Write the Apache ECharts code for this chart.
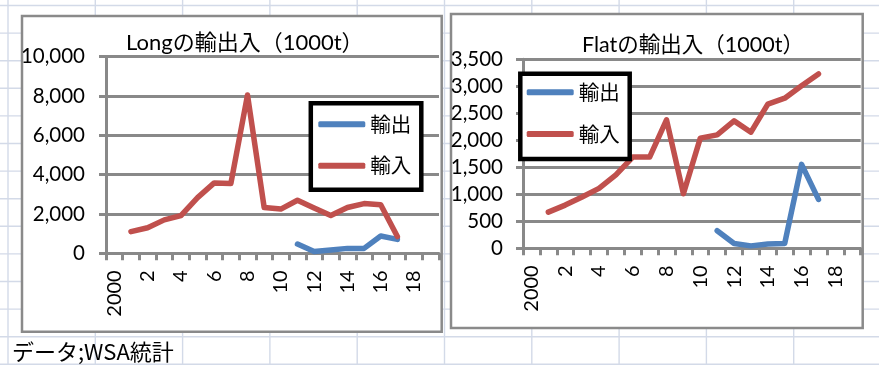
<!DOCTYPE html>
<html>
<head>
<meta charset="utf-8">
<script src="https://cdn.jsdelivr.net/npm/echarts@6/dist/echarts.min.js"></script>
<style>
  html, body { margin: 0; padding: 0; background: #fff; }
  #main { width: 879px; height: 365px; }
</style>
</head>
<body>
<div id="main"></div>
<script>
// Year categories (2000 … 2019), labelled every second year
const years = ['2000', '1', '2', '3', '4', '5', '6', '7', '8', '9',
               '10', '11', '12', '13', '14', '15', '16', '17', '18', '19'];

// Long products, 1000 t
const longExport = [null, null, null, null, null, null, null, null, null, null,
                    null, 470, 90, 170, 250, 250, 880, 710, null, null];
const longImport = [null, 1100, 1300, 1700, 1920, 2830, 3580, 3550, 8050, 2330,
                    2250, 2700, 2300, 1920, 2330, 2530, 2470, 850, null, null];

// Flat products, 1000 t
const flatExport = [null, null, null, null, null, null, null, null, null, null,
                    null, 325, 90, 45, 80, 90, 1555, 905, null, null];
const flatImport = [null, 670, 800, 950, 1110, 1360, 1690, 1690, 2380, 1010,
                    2040, 2100, 2360, 2150, 2670, 2780, 3010, 3230, null, null];

const seriesNames = ['輸出', '輸入'];
const titles = ['Longの輸出入（1000t）', 'Flatの輸出入（1000t）'];
const sourceNote = 'データ;WSA統計';

const FONT = "Lato, 'Noto Sans CJK JP', sans-serif";
const CJK = "'Noto Sans CJK JP', sans-serif";
const AXIS_GRAY = '#898989';
const BLUE = '#4F81BD';
const RED = '#C0504D';

// Spreadsheet cell lines behind the two chart objects
const sheetLines = [];
for (let k = 0; k <= 10; k++) {
  const x = 8 + 87.3 * k;
  sheetLines.push({ type: 'line', z: -20, silent: true,
    shape: { x1: x, y1: 0, x2: x, y2: 365 },
    style: { stroke: '#d3dae8', lineWidth: 1.4 } });
}
for (let k = 0; k <= 13; k++) {
  const y = 5.5 + 27.6 * k;
  sheetLines.push({ type: 'line', z: -20, silent: true,
    shape: { x1: 0, y1: y, x2: 879, y2: y },
    style: { stroke: '#d3dae8', lineWidth: 1.4 } });
}

const frames = [
  { type: 'rect', z: -10, silent: true,
    shape: { x: 22, y: 16, width: 419.7, height: 315.7 },
    style: { fill: '#fff', stroke: '#8a8a8a', lineWidth: 2.5 } },
  { type: 'rect', z: -10, silent: true,
    shape: { x: 451, y: 14, width: 411.7, height: 314 },
    style: { fill: '#fff', stroke: '#8a8a8a', lineWidth: 2.5 } },
  { type: 'text', z: -5, silent: true,
    style: { text: sourceNote, x: 12, y: 352, verticalAlign: 'middle',
             fontSize: 22, fontFamily: CJK, fill: '#000' } }
];

function xAxis(gridIndex) {
  return {
    type: 'category', gridIndex, data: years, boundaryGap: true,
    axisLine: { lineStyle: { color: AXIS_GRAY, width: 3 } },
    axisTick: { show: true, interval: 0, length: 7, lineStyle: { color: AXIS_GRAY, width: 3 } },
    axisLabel: { interval: 1, rotate: 90, margin: 17, fontSize: 20, color: '#000', fontFamily: FONT },
    splitLine: { show: false }
  };
}

function yAxis(gridIndex, max, interval, margin) {
  return {
    type: 'value', gridIndex, min: 0, max, interval,
    axisLine: { show: true, lineStyle: { color: AXIS_GRAY, width: 3 } },
    axisTick: { show: true, length: 7, lineStyle: { color: AXIS_GRAY, width: 3 } },
    splitLine: { show: true, lineStyle: { color: AXIS_GRAY, width: 3 } },
    axisLabel: { margin, fontSize: 20.5, color: '#000', fontFamily: FONT,
                 formatter: v => v.toLocaleString('en-US') }
  };
}

function line(name, color, data, idx) {
  return {
    type: 'line', name, data, xAxisIndex: idx, yAxisIndex: idx,
    symbol: 'none', showSymbol: false, connectNulls: false,
    itemStyle: { color },
    lineStyle: { color, width: 5.5, cap: 'round', join: 'round' },
    emphasis: { disabled: true }
  };
}

function legend(left, top, padding, itemGap) {
  return {
    left, top, orient: 'vertical', data: seriesNames,
    icon: 'roundRect', itemWidth: 47, itemHeight: 6, itemGap, padding,
    borderColor: '#000', borderWidth: 4.5, borderRadius: 0, backgroundColor: '#fff',
    textStyle: { fontSize: 20.5, lineHeight: 24, fontFamily: CJK, color: '#000' }
  };
}

const chart = echarts.init(document.getElementById('main'), null, { renderer: 'canvas' });
chart.setOption({
  animation: false,
  backgroundColor: '#fff',
  graphic: { elements: sheetLines.concat(frames) },
  title: [
    { text: titles[0], left: 126, top: 31, padding: 0,
      textStyle: { fontSize: 22, lineHeight: 24, fontWeight: 'normal', color: '#000', fontFamily: FONT } },
    { text: titles[1], left: 582, top: 33, padding: 0,
      textStyle: { fontSize: 21.5, lineHeight: 24, fontWeight: 'normal', color: '#000', fontFamily: FONT } }
  ],
  legend: [
    legend(310.8, 103.3, [9, 10, 12, 7.5], 17.4),
    legend(520.3, 73.7, [6.6, 10, 13, 6.4], 17.7)
  ],
  grid: [
    { left: 106, top: 56.7, width: 333, height: 196.6 },
    { left: 523, top: 59.3, width: 337.7, height: 189 }
  ],
  xAxis: [xAxis(0), xAxis(1)],
  yAxis: [yAxis(0, 10000, 2000, 21), yAxis(1, 3500, 500, 20)],
  series: [
    line(seriesNames[0], BLUE, longExport, 0),
    line(seriesNames[1], RED, longImport, 0),
    line(seriesNames[0], BLUE, flatExport, 1),
    line(seriesNames[1], RED, flatImport, 1)
  ]
});
</script>
</body>
</html>
